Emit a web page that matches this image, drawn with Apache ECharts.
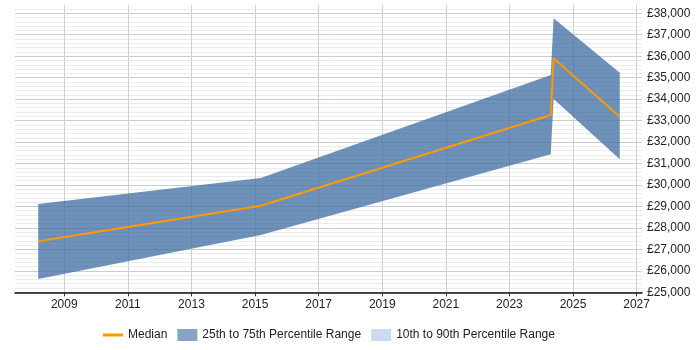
<!DOCTYPE html>
<html>
<head>
<meta charset="utf-8">
<script src="https://cdn.jsdelivr.net/npm/echarts@6/dist/echarts.min.js"></script>
<style>
    html, body { margin: 0; padding: 0; background: #fff; }
    #chart { width: 700px; height: 350px; }
</style>
</head>
<body>
<div id="chart"></div>
<script>
// Data
var years = [2008.18, 2015.18, 2024.30, 2024.39, 2026.47];
var median = [27380, 29030, 33260, 35900, 33180];
var p25 = [25620, 27670, 31430, 34010, 31200];
var p75 = [29110, 30330, 35120, 37770, 35230];
var yearTicks = [2009, 2011, 2013, 2015, 2017, 2019, 2021, 2023, 2025, 2027];

var chart = echarts.init(document.getElementById('chart'));

// band rows: [x, low, high]
var bandData = years.map(function (x, i) { return [x, p25[i], p75[i]]; });
var medianData = years.map(function (x, i) { return [x, median[i]]; });

function renderBand(params, api) {
    if (params.dataIndex !== 0) return;
    var pts = [];
    for (var i = 0; i < years.length; i++) pts.push(api.coord([years[i], p75[i]]));
    for (var j = years.length - 1; j >= 0; j--) pts.push(api.coord([years[j], p25[j]]));
    return {
        type: 'polygon',
        shape: { points: pts },
        style: { fill: 'rgba(60,106,160,0.74)' }
    };
}

var option = {
    animation: false,
    textStyle: { fontFamily: 'Liberation Sans, Arial, sans-serif' },
    grid: { left: 15, right: 58, top: 4.7, bottom: 57.7 },
    legend: {
        left: 103,
        top: 329,
        padding: 0,
        itemGap: 10,
        itemWidth: 20,
        itemHeight: 12,
        textStyle: { fontSize: 12, color: '#222' },
        data: [
            { name: 'Median', icon: 'path://M0,0H20V3H0Z', itemStyle: { color: '#ff9900' } },
            { name: '25th to 75th Percentile Range', icon: 'rect', itemStyle: { color: '#85a4c8' } },
            { name: '10th to 90th Percentile Range', icon: 'rect', itemStyle: { color: '#c9dbee' } }
        ]
    },
    xAxis: {
        type: 'value',
        min: 2007.45,
        max: 2027.17,
        axisLine: { lineStyle: { color: '#111', width: 1.5 } },
        axisTick: { show: true, length: 4, customValues: yearTicks, lineStyle: { color: '#333' } },
        axisLabel: {
            customValues: yearTicks,
            color: '#222',
            fontSize: 12,
            margin: 6,
            formatter: function (v) { return String(Math.round(v)); }
        },
        splitLine: { show: true, lineStyle: { color: '#cfcfcf', width: 1 } }
    },
    yAxis: {
        type: 'value',
        position: 'right',
        min: 25000,
        max: 38400,
        interval: 200,
        axisLine: { show: false },
        axisTick: { show: false },
        axisLabel: {
            color: '#222',
            fontSize: 12,
            margin: 5,
            formatter: function (v) {
                if (v % 1000 !== 0) return '';
                return '£' + v.toLocaleString('en-GB');
            }
        },
        splitLine: {
            show: true,
            showMaxLine: false,
            lineStyle: { color: ['#cccccc', '#ebebeb', '#ebebeb', '#ebebeb', '#ebebeb'], width: 1 }
        }
    },
    series: [
        {
            name: '10th to 90th Percentile Range',
            type: 'line',
            data: [],
            itemStyle: { color: '#c9dbee' }
        },
        {
            name: '25th to 75th Percentile Range',
            type: 'custom',
            renderItem: renderBand,
            data: bandData,
            encode: { x: 0, y: [1, 2] },
            itemStyle: { color: '#85a4c8' },
            silent: true,
            z: 2
        },
        {
            name: 'Median',
            type: 'line',
            data: medianData,
            symbol: 'none',
            lineStyle: { color: '#ff9900', width: 2 },
            itemStyle: { color: '#ff9900' },
            z: 3
        }
    ]
};

chart.setOption(option);
</script>
</body>
</html>
